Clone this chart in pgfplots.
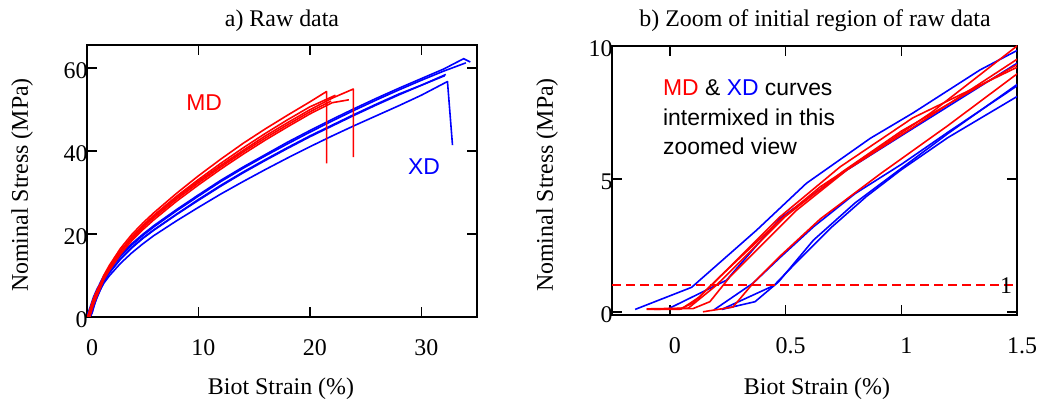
\documentclass[border=0pt]{standalone}
\usepackage{pgfplots}
\usepackage{pgfplotstable}
\pgfplotsset{compat=1.18}
\usepackage{fontspec}
\setmainfont{Liberation Serif}
\newfontfamily\arial{Liberation Sans}
\definecolor{refred}{RGB}{255,0,0}
\definecolor{refblue}{RGB}{0,0,255}

% MD (red) curves
\pgfplotstableread{
x y
-0.095 0.11
0.04 0.10
0.10 0.34
0.216 1.33
0.476 3.46
0.65 4.71
0.91 6.20
1.13 7.50
1.5 10.0
2 12.4
3 16.5
4 19.8
5 22.6
6 25.1
8 29.7
10 34.0
12 38.0
14 41.8
16 45.3
18 48.6
20 51.8
21.5 54.3
21.5 37.0
}\Ra
\pgfplotstableread{
x y
-0.05 0.12
0.10 0.13
0.173 0.39
0.26 1.33
0.548 3.83
0.765 5.34
1.05 6.94
1.5 9.5
2 11.9
3 15.9
4 19.1
5 21.9
6 24.3
8 28.7
10 32.7
12 36.5
14 40.1
16 43.6
18 46.8
20 49.9
22 52.7
23.9 54.9
23.9 38.5
}\Rb
\pgfplotstableread{
x y
0.143 0.01
0.273 0.19
0.36 1.09
0.476 2.10
0.65 3.50
0.91 5.20
1.2 7.0
1.5 8.95
2 11.2
3 15.1
4 18.3
5 21.0
6 23.4
8 27.8
10 31.8
12 35.6
14 39.2
16 42.6
18 45.8
20 48.9
22 51.6
23.5 52.3
}\Rc
\pgfplotstableread{
x y
-0.10 0.10
0.05 0.12
0.13 0.58
0.476 3.58
0.736 5.46
1.05 7.30
1.5 9.2
2 11.7
3 15.9
4 19.2
5 22.0
6 24.5
8 29.0
10 33.1
12 37.0
14 40.7
16 44.2
18 47.5
20 50.6
22.3 53.4
}\Rd
\pgfplotstableread{
x y
-0.10 0.12
0.08 0.15
0.20 1.00
0.50 3.60
0.75 5.30
1.00 6.80
1.5 9.3
2 11.6
3 15.6
4 18.8
5 21.5
6 23.9
8 28.3
10 32.3
12 36.1
14 39.7
16 43.1
18 46.3
20 49.4
21.9 52.0
}\Re
% XD (blue) curves
\pgfplotstableread{
x y
-0.15 0.10
0.094 0.93
0.375 3.08
0.59 4.84
0.866 6.53
1.05 7.48
1.34 9.10
1.5 9.83
2 11.7
3 14.9
4 17.6
5 19.9
6 22.0
8 25.8
10 29.4
12 32.9
14 36.1
16 39.1
18 42.1
20 44.9
22 47.6
24 50.2
26 52.7
28 55.1
30 57.4
32 59.7
33.8 62.2
34.4 61.4
}\Ba
\pgfplotstableread{
x y
-0.01 0.11
0.245 1.20
0.476 3.52
0.765 5.34
1.05 6.90
1.5 9.35
2 11.3
3 14.6
4 17.3
5 19.6
6 21.7
8 25.5
10 29.1
12 32.6
14 35.8
16 38.8
18 41.7
20 44.5
22 47.2
24 49.8
26 52.3
28 54.7
30 57.0
32 59.2
34.0 61.2
}\Bb
\pgfplotstableread{
x y
0.224 0.10
0.368 0.39
0.47 1.14
0.62 2.70
0.80 4.10
1.00 5.40
1.2 6.70
1.5 8.55
2 10.7
3 14.0
4 16.7
5 19.0
6 21.0
8 24.7
10 28.3
12 31.7
14 34.9
16 37.9
18 40.8
20 43.6
22 46.2
24 48.8
26 51.3
28 53.7
30 55.8
32.1 58.1
}\Bc
\pgfplotstableread{
x y
0.19 0.08
0.36 1.09
0.476 2.05
0.62 3.20
0.80 4.45
1.00 5.55
1.2 6.75
1.5 8.5
2 10.6
3 13.9
4 16.6
5 18.9
6 20.9
8 24.6
10 28.1
12 31.5
14 34.7
16 37.7
18 40.6
20 43.4
22 46.0
24 48.6
26 51.1
28 53.5
30 55.8
32.2 58.4
}\Bd
\pgfplotstableread{
x y
0.224 0.10
0.45 1.00
0.55 1.90
0.70 3.20
0.85 4.35
1.00 5.35
1.2 6.55
1.5 8.10
2 9.9
3 12.9
4 15.4
5 17.6
6 19.6
8 23.1
10 26.4
12 29.6
14 32.6
16 35.5
18 38.3
20 41.0
22 43.6
24 46.1
26 48.5
28 50.9
30 53.4
32.35 56.7
32.8 41.4
}\Be
\pgfplotstableread{
x y
-0.25 1
1.5 1
}\Ref

\pgfplotsset{
  myax/.style={
    scale only axis,
    anchor=south west,
    axis line style={line width=1.6bp},
    tick style={line width=1.4bp, black},
    major tick length=10bp,
    tick align=inside,
    tick pos=both,
    xticklabel pos=lower,
    yticklabel pos=left,
    ticklabel style={font=\fontsize{24}{24}\selectfont},
    xticklabel style={yshift=-19bp, xshift=5bp},
    yticklabel style={xshift=4bp, yshift=-3bp},
    /pgf/number format/assume math mode=true,
    clip=true,
  },
  cur/.style={line width=1.6bp, line join=round, no markers},
}

\begin{document}
\begin{tikzpicture}
\path[use as bounding box] (0bp,0bp) rectangle (1040bp,407bp);
% ---------- panel a ----------
\begin{axis}[myax, at={(87bp,90bp)}, width=390bp, height=272bp,
  xmin=0, xmax=35, ymin=0, ymax=65.5,
  xtick={0,10,20,30}, ytick={0,20,40,60}]
\addplot[cur, refblue] table {\Ba};
\addplot[cur, refblue] table {\Bb};
\addplot[cur, refblue] table {\Bc};
\addplot[cur, refblue] table {\Bd};
\addplot[cur, refblue] table {\Be};
\addplot[cur, refred] table {\Ra};
\addplot[cur, refred] table {\Rb};
\addplot[cur, refred] table {\Rc};
\addplot[cur, refred] table {\Rd};
\addplot[cur, refred] table {\Re};
\node[anchor=base west, inner sep=0pt, text=refred, font=\arial\fontsize{23}{23}\selectfont] at (axis cs:8.9,49.7) {MD};
\node[anchor=base west, inner sep=0pt, text=refblue, font=\arial\fontsize{23}{23}\selectfont] at (axis cs:28.8,34.2) {XD};
\end{axis}
% ---------- panel b ----------
\begin{axis}[myax, at={(612bp,92bp)}, width=405bp, height=269bp,
  xmin=-0.25, xmax=1.5, ymin=-0.11, ymax=10,
  xtick={0,0.5,1,1.5}, xticklabels={0,0.5,1,1.5}, ytick={0,5,10}]
\addplot[cur, refblue] table {\Ba};
\addplot[cur, refblue] table {\Bb};
\addplot[cur, refblue] table {\Bc};
\addplot[cur, refblue] table {\Bd};
\addplot[cur, refblue] table {\Be};
\addplot[cur, refred] table {\Ra};
\addplot[cur, refred] table {\Rb};
\addplot[cur, refred] table {\Rc};
\addplot[cur, refred] table {\Rd};
\addplot[cur, refred] table {\Re};
\addplot[draw=refred, line width=2bp, dash pattern=on 9bp off 5bp, no markers] table {\Ref};
\node[anchor=east, inner sep=0pt, font=\fontsize{24}{24}\selectfont] at (axis cs:1.48,1) {1};
\node[anchor=base west, inner sep=0pt, font=\arial\fontsize{23}{23}\selectfont] at (axis cs:-0.03,8.13) {\textcolor{refred}{MD} \& \textcolor{refblue}{XD} curves};
\node[anchor=base west, inner sep=0pt, font=\arial\fontsize{23}{23}\selectfont] at (axis cs:-0.03,7.03) {intermixed in this};
\node[anchor=base west, inner sep=0pt, font=\arial\fontsize{23}{23}\selectfont] at (axis cs:-0.03,5.94) {zoomed view};
\end{axis}
% ---------- titles and labels ----------
\node[anchor=base, inner sep=0pt, font=\fontsize{24}{24}\selectfont] at (282bp,380bp) {a) Raw data};
\node[anchor=base, inner sep=0pt, font=\fontsize{24}{24}\selectfont] at (815bp,380bp) {b) Zoom of initial region of raw data};
\node[anchor=base, inner sep=0pt, font=\fontsize{24}{24}\selectfont] at (281bp,13bp) {Biot Strain (\%)};
\node[anchor=base, inner sep=0pt, font=\fontsize{24}{24}\selectfont] at (817bp,13bp) {Biot Strain (\%)};
\node[rotate=90, anchor=center, inner sep=0pt, font=\fontsize{24}{24}\selectfont] at (22bp,222bp) {Nominal Stress (MPa)};
\node[rotate=90, anchor=center, inner sep=0pt, font=\fontsize{24}{24}\selectfont] at (547bp,222bp) {Nominal Stress (MPa)};
\end{tikzpicture}
\end{document}
